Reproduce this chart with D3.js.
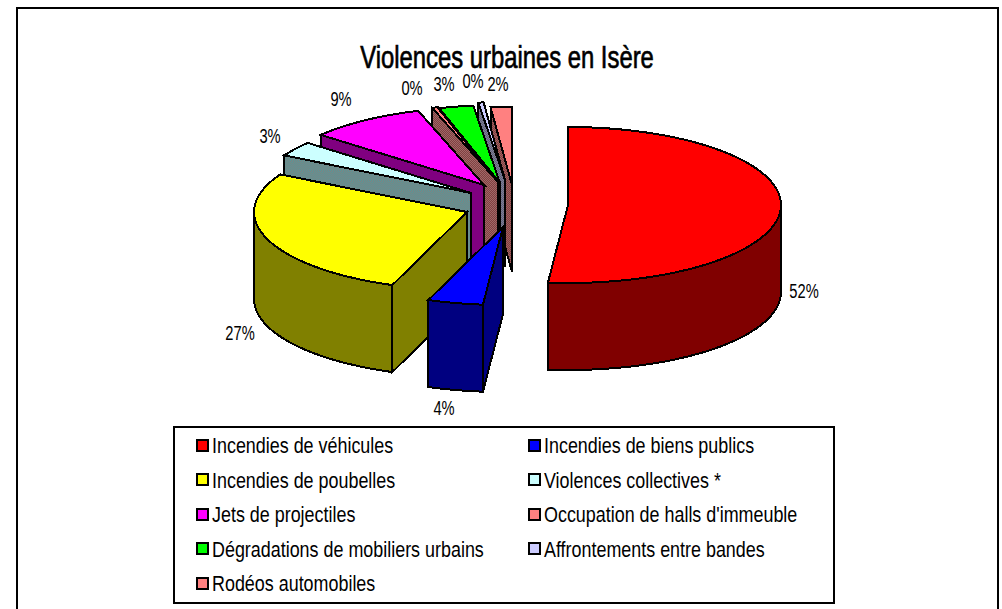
<!DOCTYPE html>
<html><head><meta charset="utf-8">
<script src="https://cdn.jsdelivr.net/npm/d3@7"></script>
<style>html,body{margin:0;padding:0;background:#fff}svg{display:block}text{font-family:"Liberation Sans",Arial,sans-serif;fill:#000}</style>
</head><body><svg id="c" width="1002" height="609"></svg>
<script>
const title = "Violences urbaines en Isère";
const categories = ["Incendies de véhicules","Incendies de biens publics","Incendies de poubelles","Violences collectives *","Jets de projectiles","Occupation de halls d'immeuble","Dégradations de mobiliers urbains","Affrontements entre bandes","Rodéos automobiles"];
const values = [51.5,4.2,27.3,3.1,8.9,0.4,2.6,0.4,1.6];
const pctLabels = ["52%","4%","27%","3%","9%","0%","3%","0%","2%"];
const topColors = ["#ff0000","#0000ff","#ffff00","#ccffff","#ff00ff","#ff8080","#00ff00","#ccccff","#ff8080"];
const wallColors = ["#800000","#000080","#808000","url(#dCyan)","#800080","url(#dHalls)","#008000","url(#dAffr)","url(#dRodeo)"];

// layout: explosion vectors and label anchors, separate from the data
const explode = [[68,5],[3,27],[-33,12],[-29,-7],[-16,-15],[-2,-18],[0,-17],[5,-20],[12,-15]];
const labelAt = [[804,291],[444,408],[240,333],[270,136],[341,99],[412,88],[444,84],[473,81],[498,84]];
const C = {x:500,y:200,rx:213,ry:78,depth:87};

const svg = d3.select("#c");
const defs = svg.append("defs");
function dither(id,a,b){
  const p = defs.append("pattern").attr("id",id).attr("width",2).attr("height",2).attr("patternUnits","userSpaceOnUse");
  p.append("rect").attr("width",2).attr("height",2).attr("fill",a);
  p.append("rect").attr("width",1).attr("height",1).attr("fill",b);
  p.append("rect").attr("x",1).attr("y",1).attr("width",1).attr("height",1).attr("fill",b);
}
dither("dCyan","#808080","#559999");
dither("dHalls","#804040","#a06868");
dither("dAffr","#808090","#606080");
dither("dRodeo","#804040","#a06060");

// frame
svg.append("path").attr("d","M17,609V8H998V609").attr("fill","none").attr("stroke","#000").attr("stroke-width",2).attr("shape-rendering","crispEdges");

const pie = d3.pie().sort(null).value(d=>d).startAngle(0).endAngle(2*Math.PI);
const arcs = pie(values);
const line = d3.line();
const order = [8,7,6,5,4,3,2,1,0];

const g = svg.append("g").attr("stroke","#000").attr("stroke-width",2).attr("stroke-linejoin","miter").attr("shape-rendering","crispEdges");
order.forEach(i=>{
  const a = arcs[i], cx = C.x+explode[i][0], cy = C.y+explode[i][1];
  const pt = t=>[cx+C.rx*Math.sin(t), cy-C.ry*Math.cos(t)];
  const n = Math.max(3,Math.ceil((a.endAngle-a.startAngle)/0.03));
  const ts = d3.range(n+1).map(k=>a.startAngle+(a.endAngle-a.startAngle)*k/n);
  const down = p=>[p[0],p[1]+C.depth];
  const apex = [cx,cy];
  // radial walls: only those that face the viewer
  const visibleRadial = [];
  if(Math.sin(a.startAngle)<-1e-6) visibleRadial.push(a.startAngle);
  if(Math.sin(a.endAngle)>1e-6) visibleRadial.push(a.endAngle);
  visibleRadial.forEach(t=>{
    const p = pt(t);
    g.append("path").attr("d",line([apex,p,down(p),down(apex)])+"Z").attr("fill",wallColors[i]);
  });
  // outer wall: only the part of the rim facing the viewer
  const front = ts.filter(t=>Math.cos(t)<=0.02);
  if(front.length>1){
    const top = front.map(pt), bot = front.map(t=>down(pt(t))).reverse();
    g.append("path").attr("d",line(top.concat(bot))+"Z").attr("fill",wallColors[i]);
  }
  g.append("path").attr("d",line([apex].concat(ts.map(pt)))+"Z").attr("fill",topColors[i]);
});

// percentage labels
svg.append("g").selectAll("text").data(pctLabels).join("text")
  .attr("text-anchor","middle").attr("font-size",21)
  .attr("transform",(d,i)=>`translate(${labelAt[i][0]},${labelAt[i][1]+7}) scale(0.7,1)`)
  .text(d=>d);

// title
svg.append("text").attr("text-anchor","middle").attr("font-size",32)
  .attr("stroke","#000").attr("stroke-width",0.7)
  .attr("transform","translate(507,68) scale(0.745,1)").text(title);

// legend
svg.append("rect").attr("x",174).attr("y",427).attr("width",660).attr("height",176)
  .attr("fill","#fff").attr("stroke","#000").attr("stroke-width",2).attr("shape-rendering","crispEdges");
const col = d3.scaleOrdinal().domain([0,1]).range([197,529]);
const row = d3.scaleLinear().domain([0,4]).range([445,583]);
const lg = svg.append("g").selectAll("g").data(categories).join("g")
  .attr("transform",(d,i)=>`translate(${col(i%2)},${row(Math.floor(i/2))})`);
lg.append("rect").attr("x",0).attr("y",-5.5).attr("width",11).attr("height",11)
  .attr("fill",(d,i)=>topColors[i]).attr("stroke","#000").attr("stroke-width",2).attr("shape-rendering","crispEdges");
lg.append("text").attr("font-size",22).attr("transform","translate(15,8) scale(0.815,1)").text(d=>d);
</script></body></html>
